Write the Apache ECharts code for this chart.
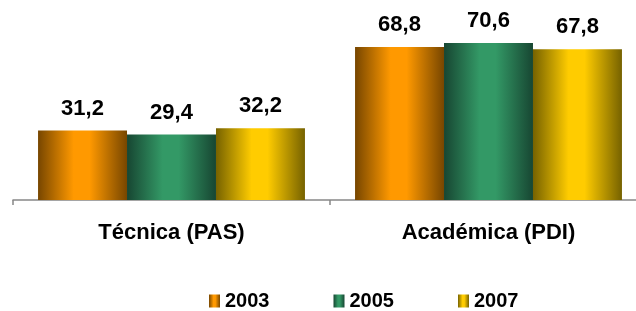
<!DOCTYPE html>
<html>
<head>
<meta charset="utf-8">
<script src="https://cdn.jsdelivr.net/npm/echarts@6/dist/echarts.min.js"></script>
<style>
html,body{margin:0;padding:0;background:#fff;overflow:hidden;width:636px;height:311px;}
#c{width:648px;height:311px;}
</style>
</head>
<body>
<div id="c"></div>
<script>
var categories = ['Técnica (PAS)', 'Académica (PDI)'];
var seriesNames = ['2003', '2005', '2007'];
var values2003 = [31.2, 68.8];
var values2005 = [29.4, 70.6];
var values2007 = [32.2, 67.8];

var FONT = '"Liberation Sans", Arial, sans-serif';

function grad(dark, bright) {
  return new echarts.graphic.LinearGradient(0, 0, 1, 0, [
    { offset: 0, color: dark },
    { offset: 0.4, color: bright },
    { offset: 0.58, color: bright },
    { offset: 1, color: dark }
  ]);
}
var colors = [
  grad('#774600', '#ff9900'),
  grad('#174632', '#339966'),
  grad('#766200', '#ffcc00')
];
var data = [values2003, values2005, values2007];

var chart = echarts.init(document.getElementById('c'), null, { renderer: 'canvas' });
chart.setOption({
  animation: false,
  grid: { left: 13, top: 22, right: 1, bottom: 111, containLabel: false },
  legend: {
    data: seriesNames,
    left: 204,
    top: 286,
    icon: 'rect',
    itemWidth: 11,
    itemHeight: 13,
    itemGap: 64,
    textStyle: { fontFamily: FONT, fontWeight: 'bold', fontSize: 20, color: '#000', padding: [0, 0, 0, 0] }
  },
  xAxis: {
    type: 'category',
    data: categories,
    axisLine: { lineStyle: { color: '#888888', width: 1.5 } },
    axisTick: { show: true, length: 5, lineStyle: { color: '#888888', width: 1.5 } },
    axisLabel: { margin: 22, fontFamily: FONT, fontWeight: 'bold', fontSize: 22, color: '#000' }
  },
  yAxis: { type: 'value', min: 0, max: 80, show: false, splitLine: { show: false } },
  series: seriesNames.map(function (n, i) {
    return {
      name: n,
      type: 'bar',
      data: data[i],
      barGap: '0%',
      barCategoryGap: '15.8%',
      itemStyle: { color: colors[i] },
      label: {
        show: true,
        position: 'top',
        distance: 11,
        fontFamily: FONT,
        fontWeight: 'bold',
        fontSize: 22,
        color: '#000',
        formatter: function (p) { return p.value.toFixed(1).replace('.', ','); }
      }
    };
  })
});
</script>
</body>
</html>
